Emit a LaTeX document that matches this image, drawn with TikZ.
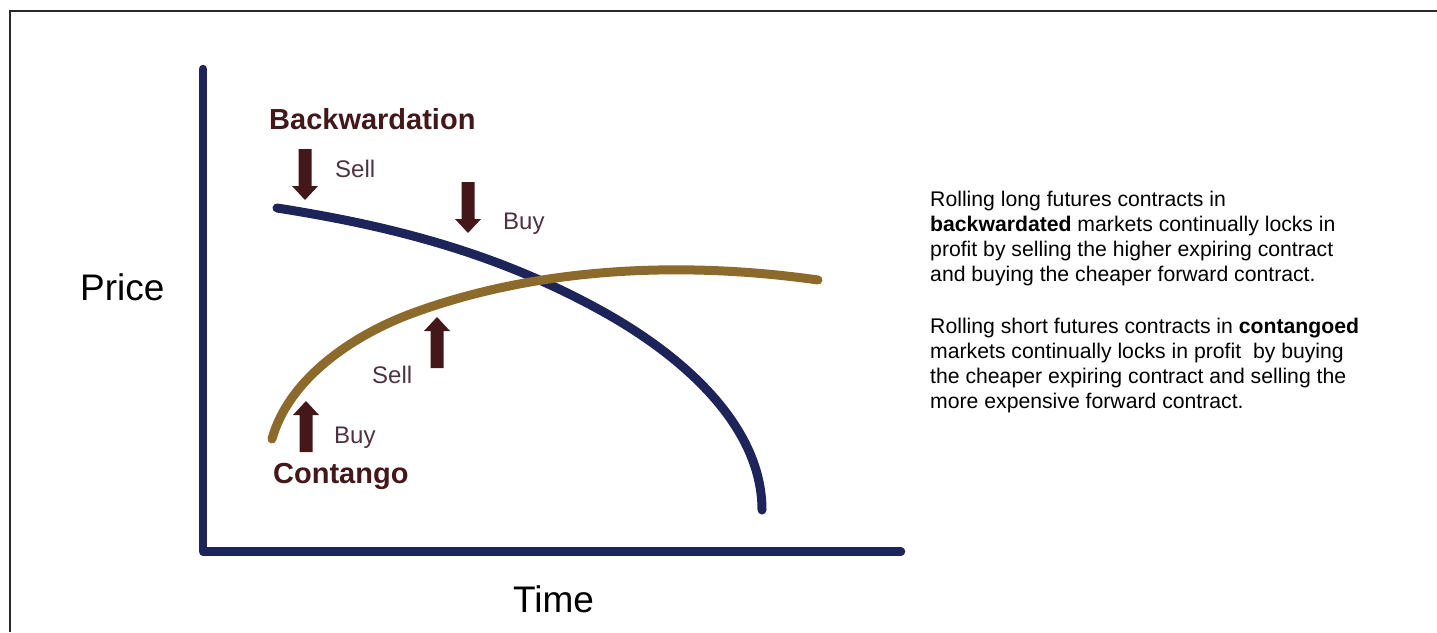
\documentclass[tikz,border=0pt]{standalone}
\usepackage{fontspec}
\setmainfont{Liberation Sans}
\usepackage{tikz}

\definecolor{curvenavy}{RGB}{28,36,89}
\definecolor{curvegold}{RGB}{139,106,43}
\definecolor{arrowbrown}{RGB}{68,23,26}
\definecolor{tradetext}{RGB}{77,51,64}
\definecolor{framegray}{RGB}{40,40,40}

\tikzset{
    axisline/.style={curvenavy, line width=8.5pt, line cap=round, line join=round},
    curveline/.style={line width=9pt, line cap=round},
    tradelabel/.style={anchor=base west, inner sep=0, text=tradetext, font=\fontsize{24}{28}\selectfont},
    marketlabel/.style={anchor=base west, inner sep=0, text=arrowbrown, font=\fontsize{29}{34}\selectfont\bfseries},
    axislabel/.style={anchor=base west, inner sep=0, font=\fontsize{37}{44}\selectfont},
    notetext/.style={anchor=base west, inner sep=0, align=left, font=\fontsize{21.2}{25}\selectfont}
}

\newcommand{\tradearrow}[3]{\fill[arrowbrown, shift={(#1,#2)}, rotate=#3] (-6.5,0) -- (-6.5,37) -- (-13,37) -- (0,51) -- (13,37) -- (6.5,37) -- (6.5,0) -- cycle;}

\begin{document}
\begin{tikzpicture}[x=1pt, y=-1pt]
    \useasboundingbox (0,0) rectangle (1437,632);
    \draw[framegray, line width=1.5pt] (10,632) -- (10,11) -- (1437,11);

    \draw[axisline] (203,69) -- (203,551.5) -- (901,551.5);
    \node[axislabel] (price) at (80,300) {Price};
    \node[axislabel] (time) at (513,612) {Time};

    \draw[curveline, curvenavy] (277,208) .. controls (385,225) and (492,250.6) .. (600,310) .. controls (690,359.5) and (762,430) .. (762,510);
    \draw[curveline, curvegold] (272,439) .. controls (288.8,378.3) and (353.8,334.7) .. (413,313) .. controls (539.8,266.6) and (684.3,261.1) .. (818,280);

    \node[marketlabel] (backw) at (269,129) {Backwardation};
    \node[marketlabel] (contango) at (273,483) {Contango};

    \tradearrow{305}{149}{0}
    \tradearrow{468}{182}{0}
    \tradearrow{306}{452}{180}
    \tradearrow{437}{368}{180}

    \node[tradelabel] (sellB) at (335,177) {Sell};
    \node[tradelabel] (buyB) at (503,229) {Buy};
    \node[tradelabel] (sellC) at (372,383) {Sell};
    \node[tradelabel] (buyC) at (334,443) {Buy};

    \node[notetext] (noteB) at (930,281.5) {Rolling long futures contracts in\\ \textbf{backwardated} markets continually locks in\\ profit by selling the higher expiring contract\\ and buying the cheaper forward contract.};
    \node[notetext] (noteC) at (930,408) {Rolling short futures contracts in \textbf{contangoed}\\ markets continually locks in profit\ \ by buying\\ the cheaper expiring contract and selling the\\ more expensive forward contract.};
\end{tikzpicture}
\end{document}
